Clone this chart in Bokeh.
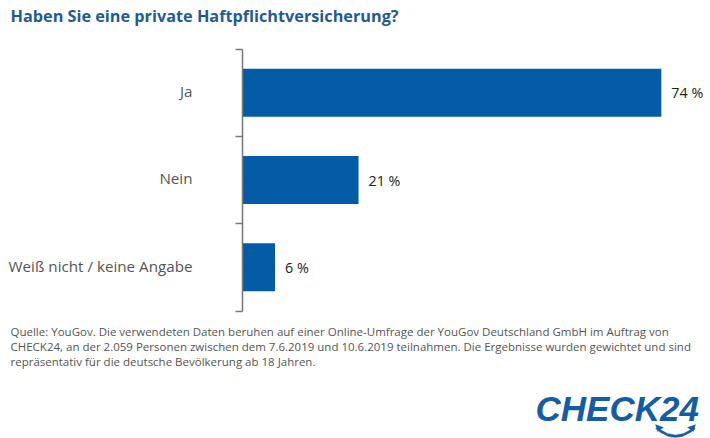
from bokeh.plotting import figure
from bokeh.models import Range1d, FixedTicker, Label, PolyAnnotation, ColumnDataSource, LinearAxis
from bokeh.core.properties import value
from bokeh.embed import file_html
from bokeh.resources import INLINE

title_text = "Haben Sie eine private Haftpflichtversicherung?"
categories = ["Ja", "Nein", "Weiß nicht / keine Angabe"]
bar_values = [74, 20.5, 5.75]
value_labels = ["74 %", "21 %", "6 %"]
source_lines = [
    "Quelle: YouGov. Die verwendeten Daten beruhen auf einer Online-Umfrage der YouGov Deutschland GmbH im Auftrag von",
    "CHECK24, an der 2.059 Personen zwischen dem 7.6.2019 und 10.6.2019 teilnahmen. Die Ergebnisse wurden gewichtet und sind",
    "repräsentativ für die deutsche Bevölkerung ab 18 Jahren.",
]
logo_text = "CHECK24"

W, H = 710, 438
FONT = "Open Sans"
BLUE = "#045ca6"
LOGO = "#145ca4"
AX_X, AX_TOP, AX_BOTTOM = 242, 48.5, 310.5   # axis position in picture pixels
PX_X = 5.66
PX_Y = (AX_BOTTOM - AX_TOP) / 3
centers = [2.5, 1.5, 0.5]
label_positions = [2.515, 1.52, 0.51]
bounds = [0, 1, 2, 3]

p = figure(width=W, height=H, output_backend="svg", toolbar_location=None,
           x_range=Range1d(-AX_X / PX_X, (W - AX_X) / PX_X),
           y_range=Range1d((AX_BOTTOM - H) / PX_Y, AX_BOTTOM / PX_Y),
           min_border=0, x_axis_type=None, y_axis_type=None, outline_line_color=None,
           background_fill_color="white", border_fill_color="white")
p.grid.visible = False

ax = LinearAxis(fixed_location=0, bounds=(0, 3))
ax.ticker = FixedTicker(ticks=label_positions, minor_ticks=bounds)
ax.major_label_overrides = {c: t for c, t in zip(label_positions, categories)}
ax.major_tick_line_color = None
ax.minor_tick_out = 7
ax.minor_tick_in = 0
ax.minor_tick_line_color = "#777777"
ax.minor_tick_line_width = 1.5
ax.axis_line_color = "#777777"
ax.axis_line_width = 1.5
ax.major_label_standoff = 43
ax.major_label_text_font = FONT
ax.major_label_text_font_size = "15.2px"
ax.major_label_text_color = "#555555"
p.add_layout(ax, "left")

src = ColumnDataSource(dict(y=centers, v=bar_values, t=value_labels))
p.hbar(y="y", right="v", left=0, height=0.55, source=src, fill_color=BLUE, line_color=None)
p.text(x="v", y="y", text="t", source=src, x_offset=10, text_baseline="middle",
       text_font=value(FONT), text_font_size="14.3px", text_color="#222222")

def add_text(X, Y, text, **kw):
    p.add_layout(Label(x=X, y=H - Y, x_units="screen", y_units="screen", text=text,
                       text_baseline="alphabetic", **kw))

add_text(10, 15, title_text, text_font=FONT, text_font_style="bold",
         text_font_size="16.25px", text_color="#1f5c93")

for i, line in enumerate(source_lines):
    add_text(10, 331 + i * 15, line, text_font=FONT, text_font_size="11.5px", text_color="#555555")

add_text(535, 408, logo_text, text_font="Liberation Sans", text_font_style="bold italic",
         text_font_size="35px", text_color=LOGO)

# logo smile below the "24", with an arrow tip at each end
logo_shapes = [
    ([655, 660, 668, 675, 682, 690, 695, 692, 683, 675, 667, 658],
     [428, 432, 436, 437, 436, 432, 428, 428, 433, 434.5, 433, 428]),
    ([655, 663, 657], [424, 427, 431]),
    ([695, 687, 693], [424, 427, 431]),
]
for xs, ys in logo_shapes:
    p.add_layout(PolyAnnotation(xs=xs, ys=[H - y for y in ys],
                                xs_units="screen", ys_units="screen",
                                fill_color=LOGO, fill_alpha=1, line_color=LOGO, line_width=1))

open("out.html", "w").write(file_html(p, INLINE))
